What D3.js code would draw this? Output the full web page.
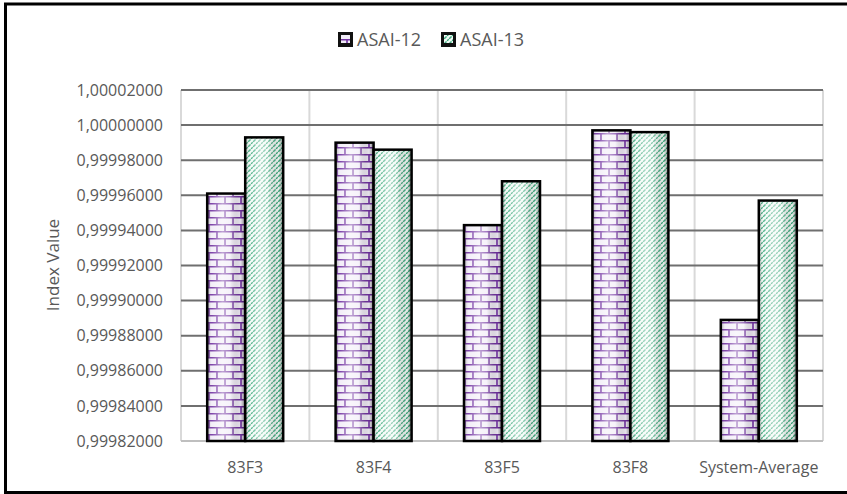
<!DOCTYPE html>
<html>
<head>
<meta charset="utf-8" />
<title>ASAI index values</title>
<script src="https://d3js.org/d3.v7.min.js"></script>
<style>
  body { margin: 0; background: #fff; }
  text { font-family: "Open Sans", "Liberation Sans", sans-serif; fill: #595959; }
</style>
</head>
<body>
<svg width="847" height="494"></svg>
<script>
// Data
var categories = ["83F3", "83F4", "83F5", "83F8", "System-Average"];
var seriesNames = ["ASAI-12", "ASAI-13"];
var asai12 = [0.999961, 0.999990, 0.999943, 0.999997, 0.999889];
var asai13 = [0.999993, 0.999986, 0.999968, 0.999996, 0.999957];
var yTicks = [0.99982, 0.99984, 0.99986, 0.99988, 0.9999, 0.99992, 0.99994, 0.99996, 0.99998, 1.0, 1.00002];

var svg = d3.select("svg");

// outer frame (right side runs off the picture)
svg.append("path")
  .attr("d", "M5.5,494 V4 H847 M5.5,492.5 H847")
  .attr("fill", "none")
  .attr("stroke", "#000")
  .attr("stroke-width", 3);

// plot area edges
var pLeft = 181, pRight = 823, pTop = 90, pBottom = 441;

var x0 = d3.scaleBand().domain(categories).range([pLeft, pRight]).padding(0);
var x1 = d3.scaleBand().domain(seriesNames)
  .range([x0.bandwidth() * 0.204, x0.bandwidth() * 0.796]).padding(0);
var y = d3.scaleLinear().domain([0.99982, 1.00002]).range([pBottom, pTop]);

var defs = svg.append("defs");

// brick pattern
var brick = defs.append("pattern").attr("id", "brick")
  .attr("patternUnits", "userSpaceOnUse").attr("width", 16).attr("height", 14);
brick.append("rect").attr("width", 16).attr("height", 14).attr("fill", "#f1ecf7");
brick.append("path")
  .attr("d", "M0,0.75 H16 M0,7.75 H16 M1,0 V7 M9,7 V14")
  .attr("stroke", "#7030a0").attr("stroke-width", 1.6).attr("fill", "none");

// diagonal stripes
var stripe = defs.append("pattern").attr("id", "stripe")
  .attr("patternUnits", "userSpaceOnUse").attr("width", 5).attr("height", 5);
stripe.append("rect").attr("width", 5).attr("height", 5).attr("fill", "#f2faf6");
stripe.append("path")
  .attr("d", "M-1,6 L6,-1 M-1,1 L1,-1 M4,6 L6,4")
  .attr("stroke", "#33a676").attr("stroke-width", 1.4)
  .attr("stroke-dasharray", "2.2,0.8");

// cylinder-like shading
var shade = defs.append("linearGradient").attr("id", "shade")
  .attr("x1", 0).attr("x2", 1).attr("y1", 0).attr("y2", 0);
[[0, "#000", 0.35], [0.12, "#fff", 0.1], [0.4, "#fff", 0.55], [0.6, "#fff", 0.35], [0.88, "#000", 0.05], [1, "#000", 0.45]]
  .forEach(function (s) {
    shade.append("stop").attr("offset", s[0]).attr("stop-color", s[1]).attr("stop-opacity", s[2]);
  });

var fills = { "ASAI-12": "url(#brick)", "ASAI-13": "url(#stripe)" };

// vertical grid lines at category edges
var edges = categories.map(function (c) { return x0(c); }).concat([pRight]);
svg.append("g").selectAll("line").data(edges).enter().append("line")
  .attr("x1", function (d) { return d; }).attr("x2", function (d) { return d; })
  .attr("y1", pTop).attr("y2", pBottom)
  .attr("stroke", "#d9d9d9").attr("stroke-width", 2);

// horizontal grid lines
svg.append("g").selectAll("line").data(yTicks.slice(1)).enter().append("line")
  .attr("x1", pLeft).attr("x2", pRight)
  .attr("y1", function (d) { return y(d); }).attr("y2", function (d) { return y(d); })
  .attr("stroke", "#6f6f6f").attr("stroke-width", 2);

// baseline
svg.append("line").attr("x1", pLeft).attr("x2", pRight)
  .attr("y1", pBottom).attr("y2", pBottom)
  .attr("stroke", "#bfbfbf").attr("stroke-width", 2);

// bars
var rows = [];
categories.forEach(function (c, i) {
  rows.push({ cat: c, s: "ASAI-12", v: asai12[i] });
  rows.push({ cat: c, s: "ASAI-13", v: asai13[i] });
});

var bars = svg.append("g").selectAll("g").data(rows).enter().append("g");
bars.append("rect")
  .attr("x", function (d) { return x0(d.cat) + x1(d.s); })
  .attr("y", function (d) { return y(d.v); })
  .attr("width", x1.bandwidth())
  .attr("height", function (d) { return pBottom - y(d.v); })
  .attr("fill", function (d) { return fills[d.s]; });
bars.append("rect")
  .attr("x", function (d) { return x0(d.cat) + x1(d.s); })
  .attr("y", function (d) { return y(d.v); })
  .attr("width", x1.bandwidth())
  .attr("height", function (d) { return pBottom - y(d.v); })
  .attr("fill", "url(#shade)")
  .attr("stroke", "#000").attr("stroke-width", 2.5);

// y tick labels
svg.append("g").selectAll("text").data(yTicks).enter().append("text")
  .attr("x", 163).attr("y", function (d) { return y(d); })
  .attr("dy", "0.35em").attr("text-anchor", "end")
  .style("font-size", "16px")
  .text(function (d) { return d3.format(".8f")(d).replace(".", ","); });

// x labels
svg.append("g").selectAll("text").data(categories).enter().append("text")
  .attr("x", function (d) { return x0(d) + x0.bandwidth() / 2; })
  .attr("y", 467).attr("dy", "0.35em").attr("text-anchor", "middle")
  .style("font-size", "16px")
  .text(function (d) { return d; });

// axis title
svg.append("text")
  .attr("transform", "translate(59,265) rotate(-90)")
  .attr("text-anchor", "middle")
  .style("font-size", "17px")
  .text("Index Value");

// legend
var legendX = [338, 441];
var lg = svg.append("g").selectAll("g").data(seriesNames).enter().append("g")
  .attr("transform", function (d, i) { return "translate(" + legendX[i] + ",32)"; });
lg.append("rect").attr("width", 15).attr("height", 15).attr("fill", "#111");
lg.append("rect").attr("x", 3).attr("y", 3).attr("width", 9).attr("height", 8)
  .attr("fill", function (d) { return fills[d]; });
lg.append("text").attr("x", 19).attr("y", 8).attr("dy", "0.35em")
  .style("font-size", "18px")
  .text(function (d) { return d; });
</script>
</body>
</html>
